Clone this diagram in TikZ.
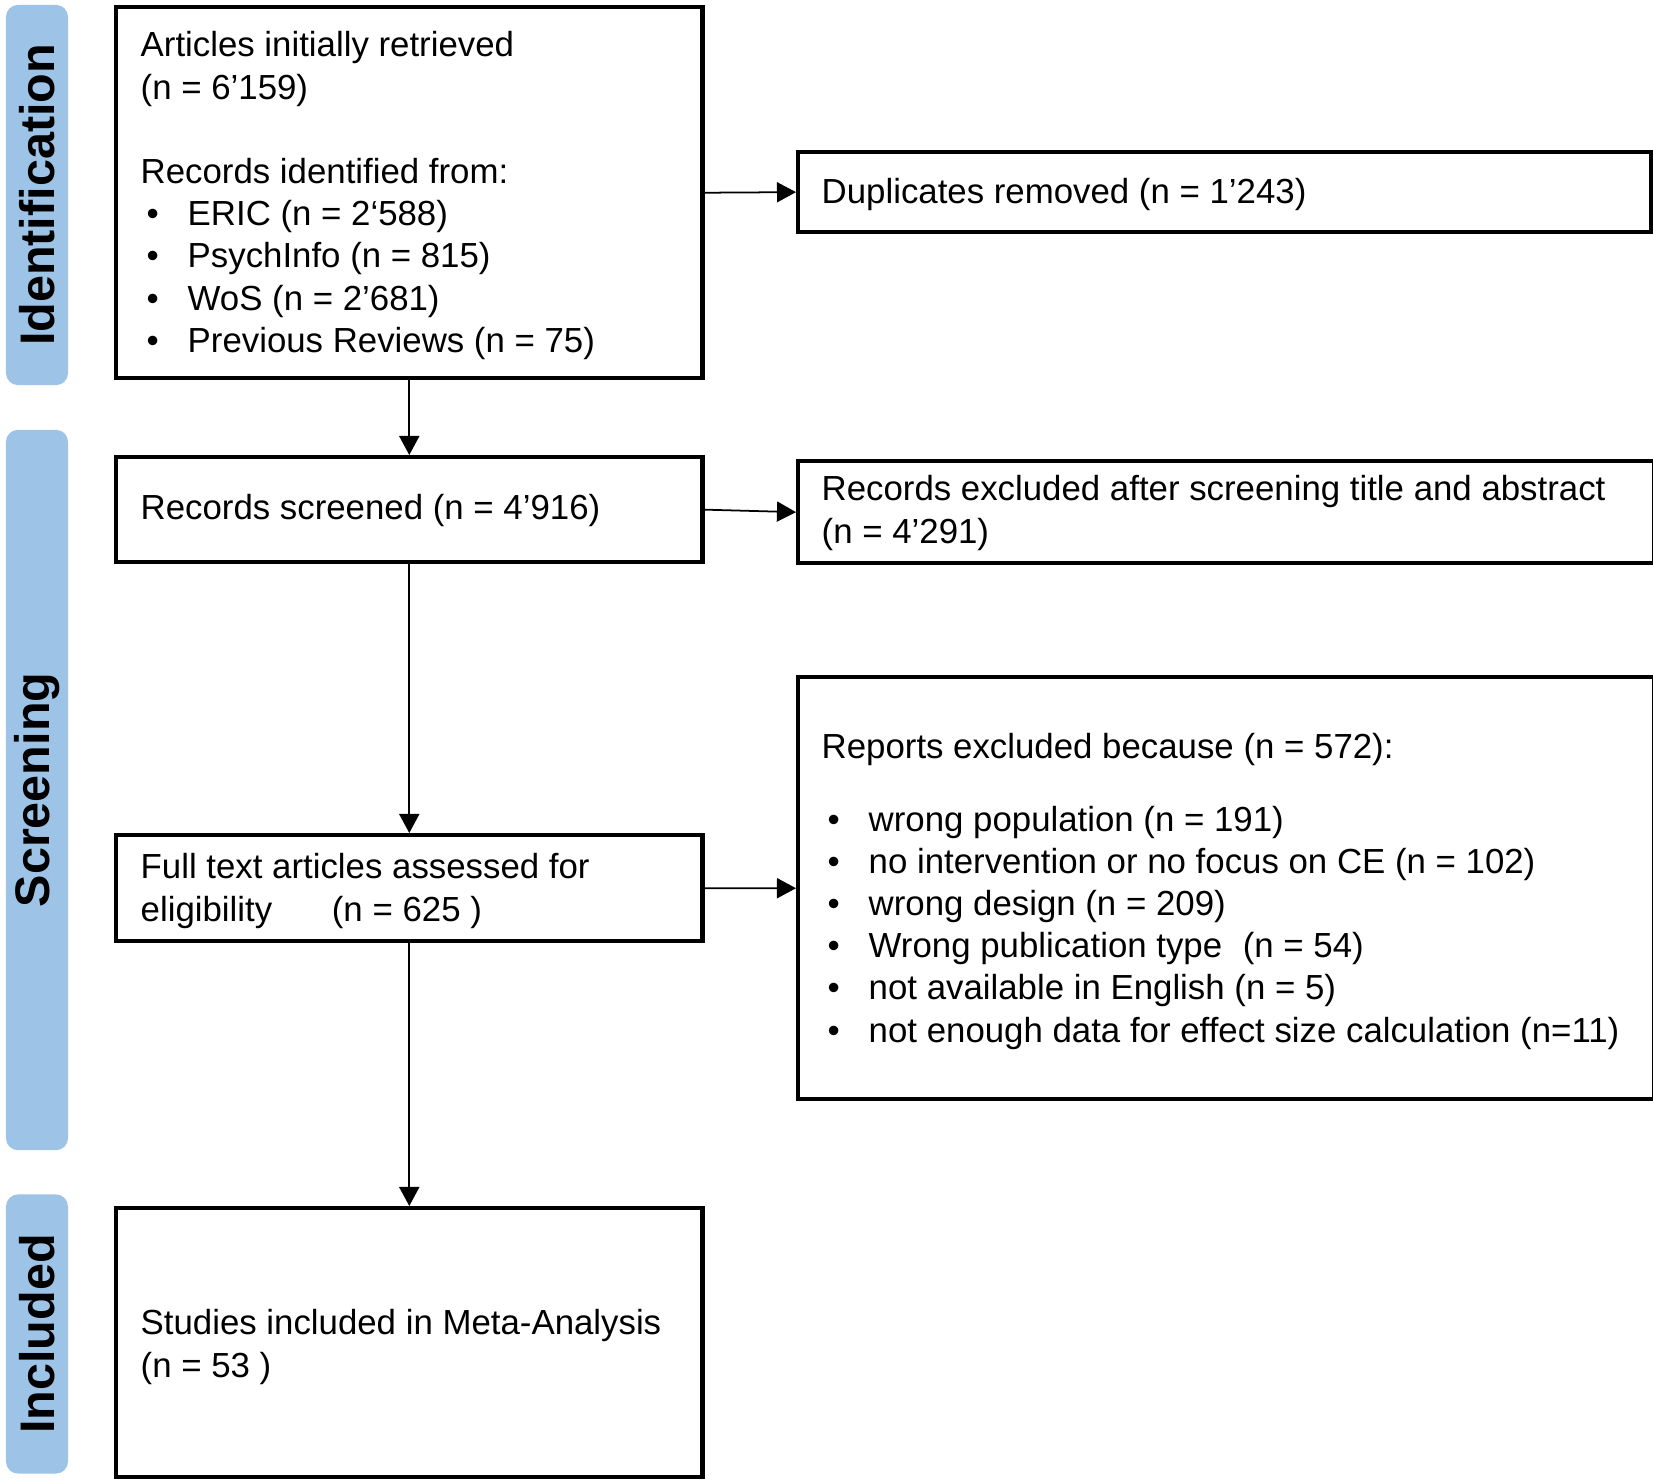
\documentclass[tikz,border=0pt]{standalone}
\usepackage{fontspec}
\setmainfont{Liberation Sans}
\usetikzlibrary{positioning,arrows.meta}
\definecolor{phaseblue}{HTML}{9DC3E6}
\newcommand{\bul}{\makebox[0.47cm][l]{\hspace{0.06cm}\textbullet}}

\begin{document}
\begin{tikzpicture}
    [
        x=0.01cm, y=-0.01cm,
        phase/.style={rectangle, rounded corners=0.12cm, fill=phaseblue, rotate=90, minimum height=0.62cm, inner sep=0, font=\fontsize{13.8pt}{16pt}\selectfont\bfseries},
        box/.style={rectangle, draw, line width=1.2pt, anchor=north west, inner sep=0},
        boxtext/.style={inner sep=0, align=left, font=\fontsize{9.9pt}{12pt}\selectfont},
        arrow/.style={-{Triangle[length=0.19cm,width=0.2cm]}, line width=0.5pt},
    ]
    \useasboundingbox (0,0) rectangle (1653,1481);
    % phases
    \node[phase, minimum width=3.80cm] (identification) at (37,195) {Identification};
    \node[phase, minimum width=7.20cm] (screening) at (37,790) {Screening};
    \node[phase, minimum width=2.79cm] (included) at (37,1334) {Included};
    % left column
    \node[box, minimum width=5.86cm, minimum height=3.71cm] (articles) at (114,5) {};
    \node[box, minimum width=5.86cm, minimum height=1.05cm] (screened) at (114,455) {};
    \node[box, minimum width=5.86cm, minimum height=1.06cm] (fulltext) at (114,833) {};
    \node[box, minimum width=5.86cm, minimum height=2.69cm] (studies) at (114,1206) {};
    % right column
    \node[box, minimum width=8.53cm, minimum height=0.80cm] (duplicates) at (796,150) {};
    \node[box, minimum width=8.55cm, minimum height=1.02cm] (excluded) at (796,459) {};
    \node[box, minimum width=8.55cm, minimum height=4.22cm] (reports) at (796,675) {};
    % texts
    \node[boxtext, anchor=north west] (articlestext) at (140,31) {Articles initially retrieved\\(n = 6’159)\\[12pt]Records identified from:\\\bul ERIC (n = 2‘588)\\\bul PsychInfo (n = 815)\\\bul WoS (n = 2’681)\\\bul Previous Reviews (n = 75)};
    \node[boxtext, anchor=west] (screenedtext) at (140,510) {Records screened (n = 4’916)};
    \node[boxtext, anchor=north west] (fulltexttext) at (140,853) {Full text articles assessed for\\eligibility\hspace{0.5cm} (n = 625 )};
    \node[boxtext, anchor=north west] (studiestext) at (140,1309) {Studies included in Meta-Analysis\\(n = 53 )};
    \node[boxtext, anchor=west] (duplicatestext) at (821,194) {Duplicates removed (n = 1’243)};
    \node[boxtext, anchor=north west] (excludedtext) at (821,475) {Records excluded after screening title and abstract\\(n = 4’291)};
    \node[boxtext, anchor=north west] (reportstext) at (821,733) {Reports excluded because (n = 572):\\[0.3cm]\bul wrong population (n = 191)\\\bul no intervention or no focus on CE (n = 102)\\\bul wrong design (n = 209)\\\bul Wrong publication type\hspace{0.11cm} (n = 54)\\\bul not available in English (n = 5)\\\bul not enough data for effect size calculation (n=11)};
    % arrows
    \draw[arrow] (articles.south) -- (screened.north);
    \draw[arrow] (screened.south) -- (fulltext.north);
    \draw[arrow] (fulltext.south) -- (studies.north);
    \draw[arrow] (articles.east) -- (duplicates.west);
    \draw[arrow] (screened.east) -- (excluded.west);
    \draw[arrow] (fulltext.east) -- (reports.west);
\end{tikzpicture}
\end{document}
